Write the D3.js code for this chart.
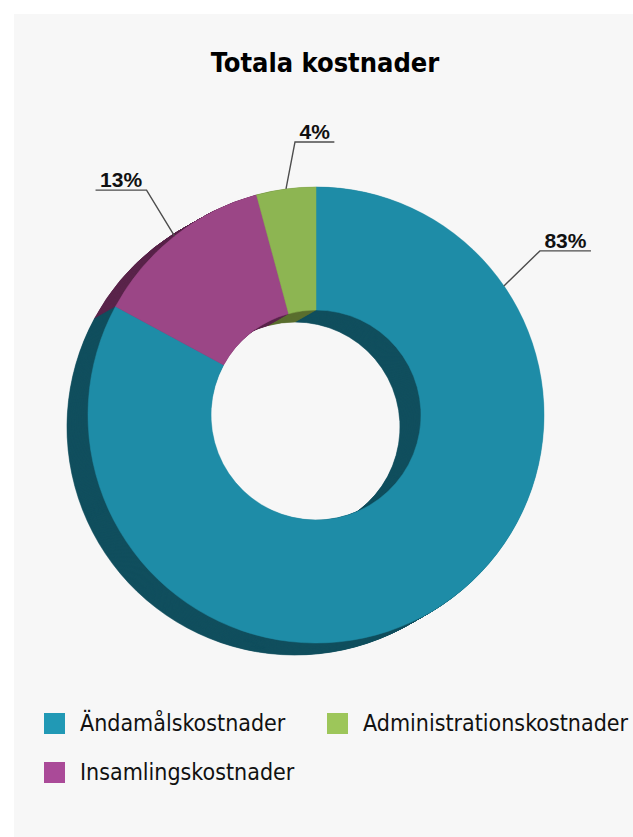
<!DOCTYPE html>
<html>
<head>
<meta charset="utf-8">
<script src="https://cdn.jsdelivr.net/npm/d3@7/dist/d3.min.js"></script>
<style>
	body { margin: 0; background: #fff; }
	.title { font-family: "Liberation Sans Narrow", "Arial Narrow", "DejaVu Sans Condensed", sans-serif; font-weight: bold; }
	.legend text { font-family: "Liberation Sans Narrow", "Arial Narrow", "DejaVu Sans Condensed", sans-serif; }
	.pct text { font-family: "Liberation Sans", Arial, sans-serif; font-weight: bold; }
</style>
</head>
<body>
<svg id="chart" width="633" height="837"></svg>
<script>
// data
var categories = ['Ändamålskostnader', 'Insamlingskostnader', 'Administrationskostnader'];
var shares = [82.9, 12.9, 4.2];
var faceColors = ['#1e8ca7', '#9b4686', '#8db552'];
var sideColors = ['#114f5e', '#5a254b', '#5a6e2f'];
var legendColors = ['#2199b5', '#aa4a98', '#9dc65a'];
var legendOrder = [0, 2, 1];

// where along each slice the leader line leaves the ring, and the elbow offset
var labelPos = [0.186, 0.5, 0.5];
var labelElbow = [[36, -35], [-28, -46], [9, -47]];

var width = 633, height = 837;
var cx = 316, cy = 415;
var outerR = 228, innerR = 105;
var depth = [-21, 12];
var layers = 30;

var svg = d3.select('#chart');

svg.append('rect')
	.attr('x', 14).attr('y', 14)
	.attr('width', width - 14).attr('height', height - 14)
	.attr('fill', '#f7f7f7');

svg.append('text')
	.attr('class', 'title')
	.attr('x', 325).attr('y', 72)
	.attr('text-anchor', 'middle')
	.style('font-size', '27px')
	.text('Totala kostnader');

var pie = d3.pie().sort(null).value(function(d) { return d; });
var arc = d3.arc().innerRadius(innerR).outerRadius(outerR);
var pieData = pie(shares);

var g = svg.append('g').attr('transform', 'translate(' + cx + ',' + cy + ')');

// ===========================================================================================
// extruded side: dark copies stacked from the back to the front
var side = g.append('g').attr('class', 'side');
for (var k = layers; k >= 1; k--) {
	side.append('g')
		.attr('transform', 'translate(' + (depth[0] * k / layers) + ',' + (depth[1] * k / layers) + ')')
		.selectAll('path')
		.data(pieData)
		.enter()
		.append('path')
		.attr('d', arc)
		.attr('fill', function(d, i) { return sideColors[i]; })
		.attr('stroke', function(d, i) { return sideColors[i]; })
		.attr('stroke-width', 0.6);
}

// front face
g.append('g').attr('class', 'face')
	.selectAll('path')
	.data(pieData)
	.enter()
	.append('path')
	.attr('d', arc)
	.attr('fill', function(d, i) { return faceColors[i]; })
	.attr('stroke', function(d, i) { return faceColors[i]; })
	.attr('stroke-width', 0.5);

// ===========================================================================================
// percent labels with leader lines
var pctFormat = d3.format('.0%');
var labels = g.append('g').attr('class', 'pct');

pieData.forEach(function(d, i) {
	var a = d.startAngle + (d.endAngle - d.startAngle) * labelPos[i];
	var x0 = Math.sin(a) * outerR, y0 = -Math.cos(a) * outerR;
	var x1 = x0 + labelElbow[i][0], y1 = y0 + labelElbow[i][1];
	var dir = labelElbow[i][0] >= 0 ? 1 : -1;

	var t = labels.append('text')
		.attr('y', y1 - 3)
		.attr('text-anchor', 'middle')
		.style('font-size', '21px')
		.attr('fill', '#111')
		.text(pctFormat(d.data / 100));
	var w = t.node().getComputedTextLength() + 9;
	t.attr('x', x1 + dir * w / 2);

	labels.append('path')
		.attr('d', 'M' + x0 + ',' + y0 + 'L' + x1 + ',' + y1 + 'L' + (x1 + dir * w) + ',' + y1)
		.attr('fill', 'none')
		.attr('stroke', '#4d4d4d')
		.attr('stroke-width', 1.4);
});

// ===========================================================================================
// legend, two per row
var legend = svg.append('g').attr('class', 'legend');
var item = legend.selectAll('.legend-item')
	.data(legendOrder)
	.enter()
	.append('g')
	.attr('class', 'legend-item')
	.attr('transform', function(d, i) {
		return 'translate(' + (44 + (i % 2) * 283) + ',' + (713 + Math.floor(i / 2) * 49) + ')';
	});

item.append('rect')
	.attr('width', 21).attr('height', 21)
	.attr('fill', function(d) { return legendColors[d]; });

item.append('text')
	.attr('x', 36).attr('y', 18)
	.style('font-size', '23px')
	.attr('fill', '#111')
	.text(function(d) { return categories[d]; });
</script>
</body>
</html>
